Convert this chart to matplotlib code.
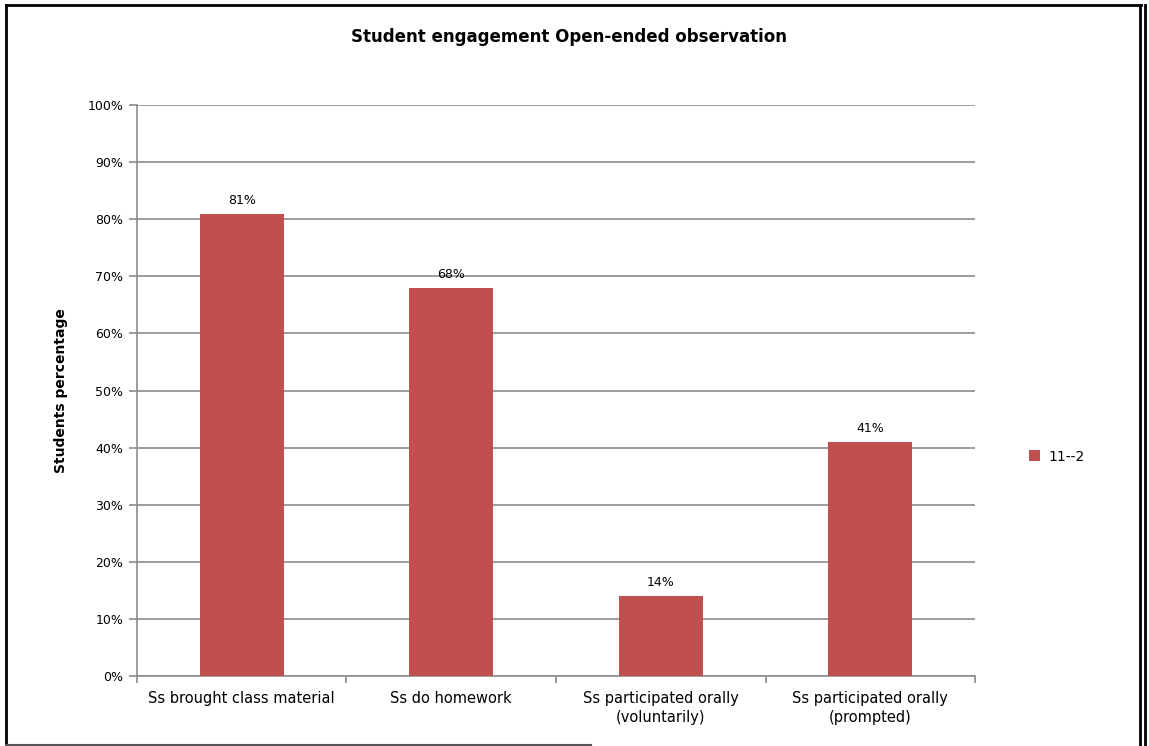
import matplotlib.pyplot as plt
from matplotlib.lines import Line2D
from matplotlib.ticker import FuncFormatter, MultipleLocator

categories = ['Ss brought class material', 'Ss do homework',
              'Ss participated orally\n(voluntarily)', 'Ss participated orally\n(prompted)']
values = [81, 68, 14, 41]
series_name = '11--2'
bar_color = '#C0504D'

plt.rcParams['font.family'] = ['DejaVu Sans']

fig = plt.figure(figsize=(11.49, 7.46), dpi=100)
ax = fig.add_axes([0.1192, 0.0938, 0.7294, 0.7654])

x = range(len(categories))
bars = ax.bar(x, values, width=0.4, color=bar_color, label=series_name, zorder=3)
for b, v in zip(bars, values):
    ax.text(b.get_x() + b.get_width() / 2, v + 1.2, f'{v}%', ha='center', va='bottom',
            fontsize=9, color='black')

ax.set_xlim(-0.5, len(categories) - 0.5)
ax.set_ylim(0, 100)
ax.yaxis.set_major_locator(MultipleLocator(10))
ax.yaxis.set_major_formatter(FuncFormatter(lambda v, p: f'{v:.0f}%'))
ax.grid(axis='y', color='#8c8c8c', linewidth=1.2, zorder=0)

ax.set_xticks([i + 0.5 for i in range(-1, len(categories))], minor=False)
ax.set_xticklabels([])
ax.set_xticks(list(x), minor=True)
ax.set_xticklabels(categories, minor=True, fontsize=10.5, linespacing=1.3)
ax.tick_params(axis='x', which='minor', length=0, pad=11)
ax.tick_params(axis='x', which='major', length=5, color='#8c8c8c', width=1.2)
ax.tick_params(axis='y', length=6, color='#8c8c8c', width=1.2, labelsize=9, pad=4)

for side in ['top', 'right']:
    ax.spines[side].set_visible(False)
for side in ['left', 'bottom']:
    ax.spines[side].set_color('#8c8c8c')
    ax.spines[side].set_linewidth(1.2)

ax.set_ylabel('Students percentage', fontsize=10, fontweight='bold', labelpad=14)
fig.text(0.4955, 0.951, 'Student engagement Open-ended observation', ha='center', va='center',
         fontsize=12, fontweight='bold')

fig.legend(handles=[bars], labels=[series_name], loc='center left',
           bbox_to_anchor=(0.885, 0.388), frameon=False, fontsize=10,
           handlelength=0.8, handleheight=0.8, handletextpad=0.6)

# border around the chart area
frame = [
    ([0.0052, 0.0052], [0.0, 0.993]),
    ([0.0052, 0.993], [0.993, 0.993]),
    ([0.9925, 0.9925], [0.0, 0.993]),
    ([0.9965, 0.9965], [0.0, 0.993]),
]
for xs, ys in frame:
    fig.add_artist(Line2D(xs, ys, transform=fig.transFigure, color='black', linewidth=2))
fig.add_artist(Line2D([0.0052, 0.514], [0.002, 0.002], transform=fig.transFigure,
                      color='#555555', linewidth=1.5))

fig.savefig('out.png', dpi=100)
